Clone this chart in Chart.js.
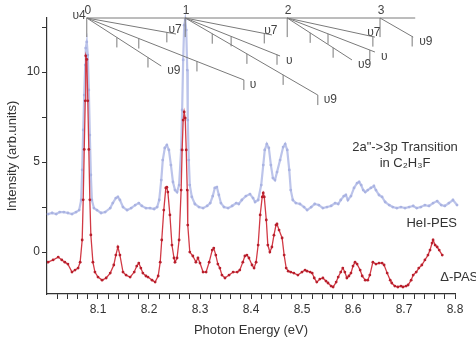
<!DOCTYPE html>
<html>
<head>
<meta charset="utf-8">
<script src="https://cdn.jsdelivr.net/npm/chart.js@4.4.1/dist/chart.umd.min.js"></script>
<style>
    html, body { margin: 0; padding: 0; background: #fff; }
    .chart-container { position: relative; width: 476px; height: 345px; }
</style>
</head>
<body>
<div class="chart-container"><canvas id="myChart"></canvas></div>
<script>
// HeI-PES trace (photon energy in eV, intensity in arb. units)
const pesEnergy = [
    8.002, 8.010, 8.018, 8.025, 8.033, 8.041, 8.049, 8.057, 8.063, 8.067,
    8.069, 8.071, 8.073, 8.075, 8.076, 8.078, 8.080, 8.082, 8.084, 8.086,
    8.088, 8.092, 8.098, 8.106, 8.114, 8.124, 8.129, 8.135, 8.139, 8.143,
    8.149, 8.157, 8.165, 8.173, 8.180, 8.186, 8.194, 8.202, 8.210, 8.216,
    8.220, 8.224, 8.227, 8.231, 8.235, 8.239, 8.243, 8.247, 8.251, 8.255,
    8.259, 8.263, 8.265, 8.267, 8.269, 8.271, 8.273, 8.275, 8.276, 8.278,
    8.280, 8.284, 8.290, 8.298, 8.306, 8.314, 8.320, 8.325, 8.329, 8.333,
    8.337, 8.341, 8.347, 8.355, 8.363, 8.371, 8.376, 8.382, 8.390, 8.398,
    8.404, 8.408, 8.414, 8.420, 8.424, 8.427, 8.431, 8.435, 8.439, 8.443,
    8.447, 8.451, 8.457, 8.463, 8.467, 8.471, 8.475, 8.478, 8.482, 8.488,
    8.496, 8.504, 8.510, 8.518, 8.525, 8.533, 8.541, 8.549, 8.557, 8.565,
    8.571, 8.576, 8.582, 8.586, 8.590, 8.596, 8.602, 8.608, 8.612, 8.616,
    8.620, 8.624, 8.629, 8.635, 8.641, 8.645, 8.651, 8.657, 8.663, 8.671,
    8.678, 8.686, 8.694, 8.702, 8.710, 8.718, 8.725, 8.733, 8.741, 8.749,
    8.757, 8.765, 8.773, 8.780, 8.788, 8.796, 8.804, 8.810
];
const pesIntensity = [
    2.11, 2.17, 2.11, 2.22, 2.22, 2.17, 2.11, 2.22, 2.33, 2.89,
    4.56, 6.78, 8.72, 10.39, 11.33, 11.67, 10.94, 9.0, 6.5, 4.28,
    2.89, 2.44, 2.33, 2.17, 2.22, 2.44, 2.72, 3.0, 3.06, 2.89,
    2.5, 2.33, 2.44, 2.61, 2.72, 2.56, 2.44, 2.44, 2.39, 2.5,
    2.89, 4.0, 5.11, 5.78, 5.94, 5.67, 4.83, 3.89, 3.44, 3.33,
    3.72, 5.67, 7.89, 10.67, 12.6, 12.9, 12.33, 10.11, 7.33, 5.11,
    3.72, 3.06, 2.67, 2.5, 2.44, 2.56, 2.72, 3.11, 3.56, 3.61,
    3.17, 2.72, 2.5, 2.44, 2.56, 2.72, 2.67, 2.89, 3.11, 3.22,
    3.0, 2.78, 2.89, 3.72, 4.83, 5.67, 6.0, 5.78, 4.83, 4.11,
    4.0, 4.44, 5.11, 5.83, 6.0, 5.67, 4.56, 3.44, 2.89, 2.72,
    2.67, 2.5, 2.33, 2.5, 2.67, 2.61, 2.44, 2.5, 2.56, 2.72,
    2.67, 2.89, 3.11, 3.17, 2.89, 3.11, 3.56, 3.83, 3.89, 3.72,
    3.44, 3.33, 3.44, 3.56, 3.67, 3.44, 3.17, 3.06, 2.78, 2.61,
    2.5, 2.44, 2.5, 2.44, 2.5, 2.56, 2.44, 2.5, 2.61, 2.56,
    2.72, 2.83, 2.61, 2.56, 2.72, 2.89, 2.61, 2.56
];

// Delta-PAS trace
const pasEnergy = [
    8.002, 8.012, 8.022, 8.029, 8.035, 8.041, 8.049, 8.055, 8.061, 8.065,
    8.069, 8.071, 8.073, 8.075, 8.076, 8.078, 8.080, 8.082, 8.084, 8.086,
    8.090, 8.094, 8.100, 8.108, 8.116, 8.124, 8.131, 8.135, 8.139, 8.143,
    8.149, 8.155, 8.163, 8.171, 8.176, 8.180, 8.184, 8.188, 8.194, 8.198,
    8.206, 8.212, 8.218, 8.222, 8.225, 8.229, 8.233, 8.235, 8.237, 8.241,
    8.245, 8.249, 8.251, 8.255, 8.259, 8.263, 8.265, 8.267, 8.269, 8.271,
    8.273, 8.275, 8.276, 8.280, 8.286, 8.292, 8.296, 8.300, 8.306, 8.312,
    8.318, 8.324, 8.327, 8.331, 8.335, 8.339, 8.343, 8.349, 8.357, 8.365,
    8.373, 8.378, 8.384, 8.388, 8.392, 8.396, 8.402, 8.406, 8.410, 8.414,
    8.418, 8.422, 8.424, 8.426, 8.430, 8.433, 8.437, 8.441, 8.445, 8.449,
    8.451, 8.455, 8.461, 8.465, 8.469, 8.473, 8.478, 8.484, 8.492, 8.500,
    8.506, 8.510, 8.516, 8.520, 8.524, 8.529, 8.535, 8.541, 8.547, 8.551,
    8.557, 8.561, 8.567, 8.571, 8.576, 8.580, 8.584, 8.588, 8.592, 8.596,
    8.600, 8.604, 8.608, 8.614, 8.618, 8.624, 8.629, 8.633, 8.639, 8.645,
    8.651, 8.657, 8.661, 8.667, 8.673, 8.676, 8.682, 8.688, 8.694, 8.698,
    8.704, 8.708, 8.714, 8.718, 8.724, 8.729, 8.735, 8.741, 8.747, 8.751,
    8.755, 8.757, 8.761, 8.765, 8.769, 8.775
];
const pasIntensity = [
    -0.56, -0.44, -0.28, -0.44, -0.56, -0.67, -1.11, -1.0, -0.89, -0.56,
    0.67, 2.9, 5.7, 8.4, 10.9, 10.7, 8.4, 5.7, 2.9, 0.95,
    -0.56, -1.11, -1.39, -1.56, -1.44, -1.17, -0.72, -0.17, 0.28, -0.17,
    -1.11, -1.28, -1.39, -1.11, -0.78, -0.61, -0.89, -1.17, -1.33, -1.39,
    -1.56, -1.67, -1.33, -0.56, 0.67, 2.33, 3.56, 3.6, 3.33, 2.06,
    0.39, -0.33, -0.56, -0.33, 0.67, 3.44, 5.67, 7.33, 7.78, 7.44,
    5.67, 3.44, 1.5, 0, -0.22, -0.56, -0.33, -0.61, -1.11, -1.11,
    -0.56, 0.11, 0.22, -0.17, -0.67, -0.89, -1.28, -1.44, -1.28, -1.11,
    -1.11, -1.0, -0.56, -0.22, -0.17, -0.33, -0.72, -0.89, -0.56, 0.39,
    2.06, 3.06, 3.28, 3.06, 1.78, 0.39, 0, 0.28, 0.94, 1.5,
    1.56, 1.22, 0.78, -0.17, -0.89, -1.06, -1.11, -1.17, -1.28, -1.11,
    -1.0, -1.06, -1.11, -1.17, -1.44, -1.67, -1.5, -1.44, -1.61, -1.72,
    -1.89, -1.94, -1.67, -1.39, -1.11, -0.89, -1.11, -1.44, -1.33, -1.17,
    -0.78, -0.56, -0.67, -1.0, -1.33, -1.56, -1.56, -1.28, -0.56, -0.67,
    -0.61, -0.61, -0.72, -1.17, -1.56, -1.72, -1.89, -1.94, -1.89, -1.94,
    -1.89, -1.83, -1.56, -1.28, -1.11, -0.89, -0.72, -0.44, -0.17, 0.11,
    0.5, 0.67, 0.39, 0.28, 0.11, -0.17
];

// axis ticks
const xMajorTicks = [8.1, 8.2, 8.3, 8.4, 8.5, 8.6, 8.7, 8.8];
const xTickLabels = ['8.1', '8.2', '8.3', '8.4', '8.5', '8.6', '8.7', '8.8'];
const yTickValues = [0, 2.5, 5, 7.5, 10, 12.5];
const yTickLabels = ['0', '', '5', '', '10', ''];

// vibrational assignment comb (eV / intensity units)
const combLevels = ['0', '1', '2', '3'];
const combOrigins = [8.078, 8.271, 8.471, 8.653];
const combTop = 13.0;
const combStemEnd = 11.94;
const combRightEnd = 8.722;
const progFrom = [0, 0, 0, 1, 1, 1, 2, 2, 2, 3];
const progEndE = [8.253, 8.224, 8.386, 8.441, 8.457, 8.531, 8.643, 8.643, 8.598, 8.718];
const progEndI = [12.11, 10.33, 9.56, 12.06, 10.89, 8.72, 11.94, 11.11, 10.67, 11.94];
const progTicks = [
    [8.235], [8.137, 8.198], [8.180, 8.294, 8.386],
    [8.426], [8.361, 8.451], [8.324, 8.392, 8.463, 8.531],
    [8.639], [8.551, 8.633], [8.516, 8.561],
    [8.716]
];
const progLabels = ['υ7', 'υ9', 'υ', 'υ7', 'υ', 'υ9', 'υ7', 'υ', 'υ9', 'υ9'];

const FONT = '"Liberation Sans", Arial, Helvetica, sans-serif';
Chart.defaults.font.family = FONT;
Chart.defaults.color = '#333';

const xTickValues = [];
for (let k = 1; k <= 40; k++) {
    xTickValues.push(+(8 + k * 0.02).toFixed(2));
}

const combPlugin = {
    id: 'comb',
    afterDraw(chart) {
        const { ctx, scales: { x, y } } = chart;
        const px = v => x.getPixelForValue(v);
        const py = v => y.getPixelForValue(v);
        ctx.save();
        ctx.strokeStyle = '#7a7a7a';
        ctx.lineWidth = 1;
        ctx.beginPath();
        ctx.moveTo(px(combOrigins[0]), py(combTop));
        ctx.lineTo(px(combRightEnd), py(combTop));
        combOrigins.forEach(e => {
            ctx.moveTo(px(e), py(combTop));
            ctx.lineTo(px(e), py(combStemEnd));
        });
        progFrom.forEach((o, i) => {
            const x0 = px(combOrigins[o]), y0 = py(combTop);
            const x1 = px(progEndE[i]), y1 = py(progEndI[i]);
            ctx.moveTo(x0, y0);
            ctx.lineTo(x1, y1);
            progTicks[i].forEach(t => {
                const tx = px(t);
                const ty = y0 + (y1 - y0) * (tx - x0) / (x1 - x0);
                ctx.moveTo(tx, ty);
                ctx.lineTo(tx, ty + 10);
            });
        });
        ctx.stroke();

        // comb labels
        ctx.fillStyle = '#444';
        ctx.font = '12px ' + FONT;
        ctx.textBaseline = 'middle';
        ctx.textAlign = 'center';
        combOrigins.forEach((e, i) => {
            ctx.fillText(combLevels[i], px(e) + 1, py(combTop) - 7);
        });
        ctx.textAlign = 'right';
        ctx.fillText('υ4', px(combOrigins[0]) - 1, py(combTop) - 2);
        progLabels.forEach((lab, i) => {
            const ex = px(progEndE[i]), ey = py(progEndI[i]);
            if (lab === 'υ7') {
                ctx.textAlign = 'center';
                ctx.fillText(lab, ex - 1, ey - 4);
            } else {
                ctx.textAlign = 'left';
                ctx.fillText(lab, ex + 6, ey + 5);
            }
        });

        // annotations
        ctx.fillStyle = '#333';
        ctx.font = '13px ' + FONT;
        ctx.textAlign = 'center';
        ctx.fillText('2a"->3p Transition', px(8.702), py(5.83));
        ctx.fillText('in C₂H₃F', px(8.702), py(4.94));
        ctx.textAlign = 'right';
        ctx.fillText('HeI-PES', px(8.804), py(1.61));
        ctx.textAlign = 'left';
        ctx.fillText('Δ-PAS', px(8.771), py(-1.39));
        ctx.restore();
    }
};

const ctx = document.getElementById('myChart');

new Chart(ctx, {
    type: 'line',
    data: {
        datasets: [{
            label: 'Δ-PAS',
            data: pasEnergy.map((e, i) => ({ x: e, y: pasIntensity[i] })),
            borderColor: '#d23a45',
            borderWidth: 1.3,
            pointRadius: 1.4,
            pointBorderWidth: 0,
            pointBackgroundColor: '#b81f2c',
            tension: 0
        }, {
            label: 'HeI-PES',
            data: pesEnergy.map((e, i) => ({ x: e, y: pesIntensity[i] })),
            borderColor: '#bcc4ea',
            borderWidth: 2.2,
            pointRadius: 1.4,
            pointBorderWidth: 0,
            pointBackgroundColor: '#aab3e2',
            tension: 0,
            clip: false
        }]
    },
    options: {
        responsive: true,
        maintainAspectRatio: false,
        animation: false,
        layout: {
            padding: { top: 18, right: 21, left: 0, bottom: 0 }
        },
        plugins: {
            legend: { display: false },
            tooltip: { enabled: false }
        },
        scales: {
            x: {
                type: 'linear',
                min: 8.0,
                max: 8.8,
                afterBuildTicks: scale => {
                    scale.ticks = xTickValues.map(v => ({ value: v }));
                },
                afterFit: scale => {
                    scale.height = 51;
                },
                ticks: {
                    autoSkip: false,
                    maxRotation: 0,
                    padding: 3,
                    color: '#333',
                    font: { size: 12 },
                    callback: value => {
                        const idx = xMajorTicks.findIndex(t => Math.abs(t - value) < 1e-6);
                        return idx >= 0 ? xTickLabels[idx] : '';
                    }
                },
                grid: {
                    display: true,
                    drawOnChartArea: false,
                    drawTicks: true,
                    tickLength: 5,
                    color: '#333'
                },
                border: { display: true, color: '#333', width: 1.2 },
                title: {
                    display: true,
                    text: 'Photon Energy (eV)',
                    color: '#333',
                    font: { size: 13 },
                    padding: { top: 0, bottom: 7 }
                }
            },
            y: {
                type: 'linear',
                min: -2.33,
                max: 13,
                afterBuildTicks: scale => {
                    scale.ticks = yTickValues.map(v => ({ value: v }));
                },
                afterFit: scale => {
                    scale.width = 47;
                },
                ticks: {
                    padding: 2,
                    color: '#333',
                    font: { size: 12 },
                    callback: value => {
                        const idx = yTickValues.indexOf(value);
                        return idx >= 0 ? yTickLabels[idx] : '';
                    }
                },
                grid: {
                    display: true,
                    drawOnChartArea: false,
                    drawTicks: true,
                    tickLength: 5,
                    color: '#333'
                },
                border: { display: true, color: '#333', width: 1.2 },
                title: {
                    display: true,
                    text: 'Intensity (arb.units)',
                    color: '#333',
                    font: { size: 13 },
                    padding: { top: 5 }
                }
            }
        }
    },
    plugins: [combPlugin]
});
</script>
</body>
</html>
